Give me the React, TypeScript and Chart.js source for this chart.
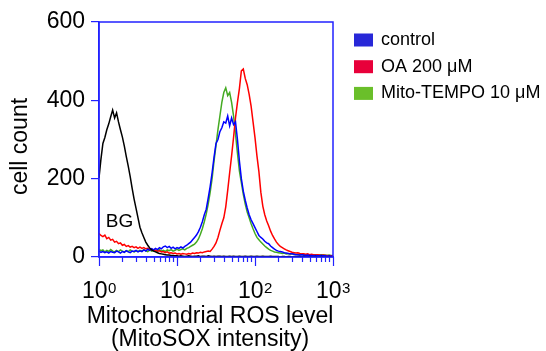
import React, { useEffect, useRef } from 'react';
import { Chart, registerables } from 'chart.js';

Chart.register(...registerables);

// Fluorescence channels (MitoSOX intensity), 40 channels per decade
const channels = [
  1, 1.059, 1.122, 1.189, 1.259, 1.334, 1.413, 1.496, 1.585, 1.679,
  1.778, 1.884, 1.995, 2.113, 2.239, 2.371, 2.512, 2.661, 2.818, 2.985,
  3.162, 3.35, 3.548, 3.758, 3.981, 4.217, 4.467, 4.732, 5.012, 5.309,
  5.623, 5.957, 6.31, 6.683, 7.079, 7.499, 7.943, 8.414, 8.913, 9.441,
  10, 10.59, 11.22, 11.89, 12.59, 13.34, 14.13, 14.96, 15.85, 16.79,
  17.78, 18.84, 19.95, 21.13, 22.39, 23.71, 25.12, 26.61, 28.18, 29.85,
  31.62, 33.5, 35.48, 37.58, 39.81, 42.17, 44.67, 47.32, 50.12, 53.09,
  56.23, 59.57, 63.1, 66.83, 70.79, 74.99, 79.43, 84.14, 89.13, 94.41,
  100, 105.9, 112.2, 118.9, 125.9, 133.4, 141.3, 149.6, 158.5, 167.9,
  177.8, 188.4, 199.5, 211.3, 223.9, 237.1, 251.2, 266.1, 281.8, 298.5,
  316.2, 335, 354.8, 375.8, 398.1, 421.7, 446.7, 473.2, 501.2, 530.9,
  562.3, 595.7, 631, 668.3, 707.9, 749.9, 794.3, 841.4, 891.3, 944.1,
  1000,
];

const bgCounts = [
  202, 250, 290, 305, 325, 340, 358, 375, 355, 368,
  345, 325, 306, 283, 256, 232, 205, 175, 148, 124,
  100, 76, 62, 50, 38, 30, 23, 18, 15, 13,
  11, 9, 8, 7, 6, 5, 5, 4, 4, 3,
  3, 2, 3, 2, 1, 2, 3, 2, 1, 2,
  2, 3, 1, 2, 2, 1, 3, 2, 1, 2,
  1, 2, 2, 1, 2, 1, 1, 2, 1, 2,
  1, 1, 2, 1, 1, 2, 1, 1, 2, 1,
  1, 2, 1, 1, 2, 1, 1, 1, 2, 1,
  1, 1, 1, 0, 1, 1, 0, 1, 1, 0,
  1, 0, 1, 1, 0, 1, 0, 0, 1, 0,
  0, 1, 0, 0, 1, 0, 0, 0, 1, 0,
  0,
];

const controlCounts = [
  15, 12, 14, 11, 13, 10, 14, 12, 11, 15,
  13, 10, 14, 12, 16, 13, 11, 15, 14, 17,
  13, 16, 14, 18, 15, 20, 17, 21, 18, 22,
  19, 24, 21, 26, 28, 24, 27, 22, 25, 21,
  24, 22, 26, 23, 27, 30, 34, 38, 44, 50,
  56, 65, 76, 90, 108, 122, 150, 180, 215, 255,
  290, 300, 320, 330, 345, 342, 360, 335, 355, 338,
  345, 300, 245, 200, 168, 145, 125, 108, 95, 85,
  75, 65, 55, 50, 46, 40, 36, 34, 28, 24,
  20, 17, 15, 14, 13, 11, 10, 9, 8, 8,
  7, 6, 6, 5, 6, 5, 4, 5, 4, 4,
  3, 4, 3, 3, 4, 3, 3, 2, 3, 2,
  2,
];

const oaCounts = [
  60, 55, 52, 56, 47, 50, 43, 45, 38, 40,
  34, 36, 30, 32, 27, 29, 25, 27, 24, 26,
  22, 25, 22, 24, 21, 22, 19, 20, 17, 18,
  15, 16, 13, 14, 11, 13, 10, 11, 9, 10,
  8, 9, 7, 9, 8, 7, 9, 8, 10, 9,
  11, 10, 12, 11, 13, 14, 15, 14, 20, 27,
  36, 50, 68, 85, 100, 128, 170, 215, 258, 305,
  355, 395, 430, 475, 480, 456, 440, 415, 385, 345,
  305, 258, 218, 165, 130, 108, 92, 80, 66, 55,
  46, 38, 32, 27, 24, 21, 18, 16, 14, 12,
  11, 10, 11, 9, 8, 8, 7, 8, 6, 7,
  6, 5, 6, 5, 4, 5, 4, 4, 3, 3,
  3,
];

const mitoCounts = [
  20, 16, 18, 13, 17, 14, 19, 15, 13, 17,
  14, 18, 15, 13, 16, 14, 18, 15, 13, 16,
  14, 17, 15, 19, 16, 14, 18, 15, 17, 14,
  16, 19, 15, 17, 14, 18, 16, 19, 15, 17,
  20, 17, 19, 21, 18, 22, 24, 27, 30, 33,
  38, 46, 58, 72, 90, 110, 135, 165, 200, 245,
  285, 325, 360, 395, 420, 432, 412, 420, 395, 360,
  315, 265, 220, 190, 160, 135, 115, 100, 85, 72,
  60, 50, 44, 38, 33, 28, 24, 20, 17, 15,
  13, 12, 11, 10, 9, 10, 8, 9, 7, 8,
  7, 6, 7, 6, 7, 5, 6, 6, 5, 6,
  5, 6, 5, 5, 6, 5, 5, 4, 5, 4,
  4,
];

const seriesLabels = ['BG', 'control', 'OA 200 μM', 'Mito-TEMPO 10 μM'];
const yTickValues = [0, 200, 400, 600];
const xDecades = [1, 10, 100, 1000];
const xExponents = ['0', '1', '2', '3'];
const yTitle = 'cell count';
const xTitle = ['Mitochondrial ROS level', '(MitoSOX intensity)'];

const FONT = '"Liberation Sans", Arial, Helvetica, sans-serif';
const AXIS_BLUE = '#2222ff';

const toPoints = (ys: number[]) => channels.map((x, i) => ({ x, y: ys[i] }));

const decorPlugin = {
  id: 'decor',
  afterDraw(chart: any) {
    const { ctx, chartArea: a, scales } = chart;
    const x = scales.x;
    const y = scales.y;
    ctx.save();
    // frame (top/right)
    ctx.strokeStyle = AXIS_BLUE;
    ctx.lineWidth = 1.5;
    ctx.strokeRect(a.left, a.top, a.right - a.left, a.bottom - a.top);

    // x ticks (minor and decade)
    ctx.lineWidth = 1.2;
    for (const t of x.ticks) {
      const px = Math.round(x.getPixelForValue(t.value)) + 0.5;
      const major = xDecades.includes(t.value);
      ctx.beginPath();
      ctx.moveTo(px, a.bottom);
      ctx.lineTo(px, a.bottom + (major ? 9 : 5));
      ctx.stroke();
    }

    // x decade labels with superscripts
    ctx.fillStyle = '#000';
    ctx.textAlign = 'left';
    ctx.textBaseline = 'alphabetic';
    xDecades.forEach((v, i) => {
      const px = x.getPixelForValue(v);
      ctx.font = `23px ${FONT}`;
      const w1 = ctx.measureText('10').width;
      ctx.font = `15px ${FONT}`;
      const w2 = ctx.measureText(xExponents[i]).width;
      const start = px - (w1 + w2) / 2;
      ctx.font = `23px ${FONT}`;
      ctx.fillText('10', start, a.bottom + 41);
      ctx.font = `15px ${FONT}`;
      ctx.fillText(xExponents[i], start + w1 + 0.5, a.bottom + 36);
    });

    // axis titles
    ctx.font = `23px ${FONT}`;
    ctx.textAlign = 'center';
    ctx.fillText(xTitle[0], (a.left + a.right) / 2 - 6, a.bottom + 66);
    ctx.fillText(xTitle[1], (a.left + a.right) / 2 - 6, a.bottom + 89);
    ctx.save();
    ctx.translate(27, (a.top + a.bottom) / 2 + 7);
    ctx.rotate(-Math.PI / 2);
    ctx.fillText(yTitle, 0, 0);
    ctx.restore();

    // BG annotation
    ctx.textAlign = 'left';
    ctx.font = `19px ${FONT}`;
    ctx.fillText('BG', x.getPixelForValue(1.22), y.getPixelForValue(77));

    // legend
    const items = chart.data.datasets.filter((d: any) => d.showInLegend);
    items.forEach((d: any, i: number) => {
      const cy = a.top + 18 + i * 26.7;
      const bx = a.right + 21;
      ctx.fillStyle = d.legendColor;
      ctx.fillRect(bx, cy - 6.5, 19, 13);
      ctx.fillStyle = '#000';
      ctx.font = `18px ${FONT}`;
      ctx.textBaseline = 'middle';
      ctx.fillText(d.label, bx + 27, cy);
    });
    ctx.restore();
  },
};

export default function App() {
  const ref = useRef<HTMLCanvasElement>(null);
  useEffect(() => {
    Chart.defaults.font.family = FONT;
    const datasets: any[] = [
      { label: seriesLabels[0], data: toPoints(bgCounts), borderColor: '#000000', showInLegend: false },
      { label: seriesLabels[1], data: toPoints(controlCounts), borderColor: '#0000ff', legendColor: '#2828d8', showInLegend: true },
      { label: seriesLabels[2], data: toPoints(oaCounts), borderColor: '#ff0000', legendColor: '#e8003a', showInLegend: true },
      { label: seriesLabels[3], data: toPoints(mitoCounts), borderColor: '#44aa22', legendColor: '#6abf2a', showInLegend: true },
    ].map((d) => ({ ...d, borderWidth: 1.5, pointRadius: 0, tension: 0, fill: false }));

    const chart = new Chart(ref.current as HTMLCanvasElement, {
      type: 'line',
      data: { datasets },
      options: {
        animation: false,
        responsive: false,
        devicePixelRatio: 1,
        layout: { padding: { top: 22, right: 213, bottom: 0, left: 0 } },
        plugins: { legend: { display: false }, tooltip: { enabled: false } },
        events: [],
        scales: {
          x: {
            type: 'logarithmic',
            min: 1,
            max: 1000,
            afterBuildTicks: (s: any) => {
              const vals: number[] = [];
              xDecades.slice(0, 3).forEach((d) => {
                for (let m = 1; m <= 9; m++) vals.push(m * d);
              });
              vals.push(xDecades[3]);
              s.ticks = vals.map((v) => ({ value: v }));
            },
            afterFit: (s: any) => { s.height = 94; },
            grid: { drawOnChartArea: false, drawTicks: false },
            border: { color: AXIS_BLUE, width: 1.5 },
            ticks: { display: false },
            title: { display: false, text: xTitle },
          },
          y: {
            min: 0,
            max: 600,
            afterBuildTicks: (s: any) => { s.ticks = yTickValues.map((v) => ({ value: v })); },
            afterFit: (s: any) => { s.width = 99; },
            grid: { drawOnChartArea: false, drawTicks: true, tickLength: 8, color: AXIS_BLUE, lineWidth: 1.2 },
            border: { color: AXIS_BLUE, width: 1.5 },
            ticks: { color: '#000', font: { size: 23, family: FONT }, padding: 6 },
            title: { display: false, text: yTitle },
          },
        },
      },
      plugins: [decorPlugin],
    } as any);
    return () => chart.destroy();
  }, []);

  return (
    <div style={{ position: 'fixed', left: 0, top: 0, width: 546, height: 351, background: '#fff' }}>
      <canvas ref={ref} width={546} height={351} style={{ display: 'block' }} />
    </div>
  );
}
